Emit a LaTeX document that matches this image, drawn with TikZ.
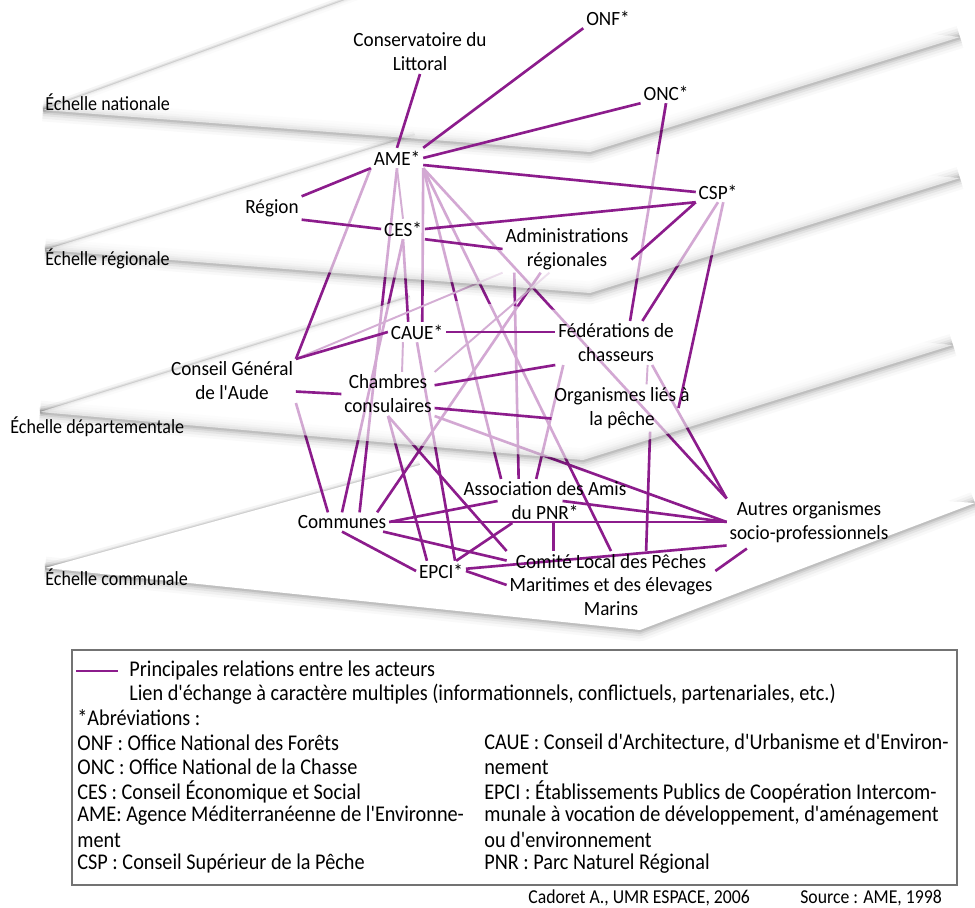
\documentclass[tikz,border=0pt]{standalone}
\usepackage{fontspec}
\setmainfont{Carlito}
\newfontfamily\actorfont{Carlito}[FakeStretch=0.95]
\newfontfamily\legendfont{Carlito}[FakeStretch=0.9]
\usepackage{tikz}
\usetikzlibrary{positioning}

\definecolor{relpurple}{RGB}{140,28,140}
\definecolor{linkpurple}{RGB}{212,174,212}

% one layer per scale sheet, and one for the lines that end on it
\pgfdeclarelayer{plane4}\pgfdeclarelayer{lines4}
\pgfdeclarelayer{plane3}\pgfdeclarelayer{lines3}
\pgfdeclarelayer{plane2}\pgfdeclarelayer{lines2}
\pgfdeclarelayer{plane1}\pgfdeclarelayer{lines1}
\pgfsetlayers{plane4,lines4,plane3,lines3,plane2,lines2,plane1,lines1,main}

% sheet: left, bottom, right, top corner, fill opacity
\newcommand{\scaleplane}[5]{%
    \foreach \lw/\op in {13/0.025,10/0.035,7/0.05,4.5/0.07,2.5/0.09}
        \draw[black, line width=\lw pt, opacity=\op, line join=round, yshift=-3pt] (#1) -- (#2) -- (#3);
    \foreach \lw/\op in {5/0.04,2.5/0.07,1.2/0.09}
        \draw[black, line width=\lw pt, opacity=\op] (#1) -- (#4);
    \fill[white, fill opacity=#5] (#1) -- (#2) -- (#3) -- (#4) -- cycle;
}

\begin{document}
\begin{tikzpicture}[
        x=0.02cm, y=-0.02cm,
        % Styles for the actors and the links
        actor/.style={
            align=center, inner sep=1.5pt,
            font=\actorfont\fontsize{11.5}{13.6}\selectfont
        },
        scalelabel/.style={
            anchor=west, inner sep=0pt,
            font=\legendfont\fontsize{11.4}{13}\selectfont
        },
        legendtext/.style={
            anchor=west, inner sep=0pt,
            font=\legendfont\fontsize{12.8}{14}\selectfont
        },
        sourcetext/.style={
            anchor=west, inner sep=0pt,
            font=\legendfont\fontsize{11.2}{13}\selectfont
        },
        rel/.style={draw=relpurple, line width=1.5pt},
        link/.style={draw=linkpurple, line width=1.1pt}
    ]

    \useasboundingbox (0,0) rectangle (975,908);

    % 1. CORNERS OF THE FOUR SHEETS
    \coordinate (natL) at (43,110);  \coordinate (natB) at (590,152);
    \coordinate (natR) at (960,37);  \coordinate (natT) at (400,-20);
    \coordinate (regL) at (45,250);  \coordinate (regB) at (590,293);
    \coordinate (regR) at (960,178); \coordinate (regT) at (415,135);
    \coordinate (depL) at (40,412);  \coordinate (depB) at (583,460);
    \coordinate (depR) at (953,345); \coordinate (depT) at (410,297);
    \coordinate (comL) at (45,568);  \coordinate (comB) at (640,630);
    \coordinate (comR) at (975,503); \coordinate (comT) at (420,465);

    \begin{pgfonlayer}{plane4}
        \fill[white] (0,0) rectangle (975,908);
        \scaleplane{comL}{comB}{comR}{comT}{1}
    \end{pgfonlayer}
    \begin{pgfonlayer}{plane3}
        \scaleplane{depL}{depB}{depR}{depT}{0.62}
    \end{pgfonlayer}
    \begin{pgfonlayer}{plane2}
        \scaleplane{regL}{regB}{regR}{regT}{0.62}
    \end{pgfonlayer}
    \begin{pgfonlayer}{plane1}
        \scaleplane{natL}{natB}{natR}{natT}{0.62}
    \end{pgfonlayer}

    % 2. SCALE NAMES
    \node[scalelabel] (natName) at (45,102) {Échelle nationale};
    \node[scalelabel] (regName) at (45,259) {Échelle régionale};
    \node[scalelabel] (depName) at (10,427) {Échelle départementale};
    \node[scalelabel] (comName) at (45,577) {Échelle communale};

    % 3. ACTORS
    \node[actor] (ONF)      at (608,18)  {ONF*};
    \node[actor] (Cons)     at (420,52)  {Conservatoire du\\Littoral};
    \node[actor] (ONC)      at (666,93)  {ONC*};
    \node[actor] (AME)      at (397,158) {AME*};
    \node[actor] (CSP)      at (718,192) {CSP*};
    \node[actor] (Region)   at (272,208) {Région};
    \node[actor] (CES)      at (403,229) {CES*};
    \node[actor] (Admin)    at (567,249) {Administrations\\régionales};
    \node[actor] (CAUE)     at (417,332) {CAUE*};
    \node[actor] (Fed)      at (616,343) {Fédérations de\\chasseurs};
    \node[actor] (CG)       at (232,381) {Conseil Général\\de l'Aude};
    \node[actor] (Chamb)    at (388,394) {Chambres\\consulaires};
    \node[actor] (Org)      at (622,408) {Organismes liés à\\la pêche};
    \node[actor] (Asso)     at (545,501) {Association des Amis\\du PNR*};
    \node[actor] (Autres)   at (809,522) {Autres organismes\\socio-professionnels};
    \node[actor] (Communes) at (342,522) {Communes};
    \node[actor] (EPCI)     at (441,571) {EPCI*};
    \node[actor] (Comite)   at (611,585) {Comité Local des Pêches\\Maritimes et des élevages\\Marins};

    % 4. LINKS ENDING ON THE COMMUNAL SHEET
    \begin{pgfonlayer}{lines4}
        \draw[rel] (AME.south) -- ([xshift=10pt]Communes.north);
        \draw[rel] (CES.south) -- (Communes.north);
        \draw[rel] (CG.south east) -- ([xshift=-8pt]Communes.north);
        \draw[rel] ([xshift=-15pt]Admin.south) -- ([xshift=20pt]Communes.north);
        \draw[rel] (AME.south east) -- ([xshift=-25pt]Asso.north);
        \draw[rel] ([xshift=-30pt]Admin.south) -- ([xshift=-15pt]Asso.north);
        \draw[rel] ([xshift=-30pt]Fed.south) -- ([xshift=-5pt]Asso.north);
        \draw[rel] (AME.south east) -- (Autres.north west);
        \draw[rel] ([xshift=-14pt]Fed.south east) -- (Autres.north west);
        \draw[rel] (Chamb.south east) -- (Autres.west);
        \draw[rel] (Chamb.south) -- ([xshift=-8pt]EPCI.north);
        \draw[rel] (CAUE.south) -- ([xshift=8pt]EPCI.north);
        \draw[rel] (Chamb.south) -- (Comite.north west);
        \draw[rel] (AME.south east) -- (Comite.north);
        \draw[rel] ([xshift=16pt]Org.south) -- ([xshift=20pt]Comite.north);
        \draw[rel] (Communes.east) -- ([xshift=-27pt]Asso.center);
        \draw[rel] (Communes.east) -- (Autres.west);
        \draw[rel] (Communes) -- (Comite);
        \draw[rel] (Communes.south) -- (EPCI.west);
        \draw[rel] (EPCI.east) -- (Comite.west);
        \draw[rel] (EPCI) -- (Asso);
        \draw[rel] (EPCI) -- (Autres.south west);
        \draw[rel] ([xshift=10pt]Asso.center) -- (Autres.west);
        \draw[rel] ([xshift=5pt]Asso.south) -- ([xshift=5pt]Asso.south |- Comite.north);
        \draw[rel, shorten <=3pt] ([xshift=14pt]Autres.south west) -- ([yshift=8pt]Comite.east);
    \end{pgfonlayer}

    % 5. LINKS ENDING ON THE DEPARTMENTAL SHEET
    \begin{pgfonlayer}{lines3}
        \draw[rel] (ONC.south) -- ([xshift=8pt]Fed.north);
        \draw[rel] (CSP.south) -- ([xshift=15pt]Fed.north);
        \draw[rel] ([xshift=3pt]CSP.south) -- ([xshift=-8pt]Org.east);
        \draw[rel] (AME.south west) -- (CG.north east);
        \draw[rel] (AME.south east) -- ([xshift=3pt]CAUE.north);
        \draw[rel] (CES.south) -- ([xshift=-5pt]CAUE.north);
        \draw[link] (Admin.south west) -- (CG.north east);
        \draw[link] ([xshift=-10pt]Admin.south) -- (Chamb.north east);
        \draw[rel] (CAUE.east) -- (CAUE.east -| Fed.west);
        \draw[rel] (CAUE.west) -- (CG.north east);
        \draw[rel] ([yshift=-6pt]CG.east) -- (Chamb.west);
        \draw[rel] ([yshift=5pt]Chamb.east) -- (Fed.south west);
        \draw[rel] ([yshift=-8pt]Chamb.east) -- ([yshift=-6pt]Org.west);
        \draw[link] ([xshift=-8pt]CAUE.south) -- ([xshift=8pt]Chamb.north);
        \draw[link] ([xshift=18pt]Fed.south) -- ([xshift=14pt]Org.north);
    \end{pgfonlayer}

    % 6. LINKS ON THE REGIONAL SHEET
    \begin{pgfonlayer}{lines2}
        \draw[rel] ([yshift=-4pt]AME.east) -- (CSP.west);
        \draw[rel] (AME.south west) -- (Region.north east);
        \draw[rel] (Region.south east) -- (CES.west);
        \draw[rel] (CES.east) -- (CSP.south west);
        \draw[rel] (CES.south east) -- (Admin.west);
        \draw[rel] (CSP.south west) -- ([yshift=-6pt]Admin.east);
        \draw[link] (AME.south) -- (CES.north);
    \end{pgfonlayer}

    % 7. LINKS FROM THE NATIONAL SHEET
    \begin{pgfonlayer}{lines1}
        \draw[rel] (Cons.south) -- (AME.north);
        \draw[rel] (ONF.south west) -- (AME.north east);
        \draw[rel] (ONC.south west) -- (AME.east);
        \begin{scope}
            \clip (natL) -- (natB) -- (natR) -- (natT) -- cycle;
            \draw[rel] (ONC.south) -- ([xshift=8pt]Fed.north);
        \end{scope}
    \end{pgfonlayer}

    % 8. LEGEND
    \draw[black!55, line width=0.6pt] (72,650) rectangle (957,885);
    \coordinate (keyA) at (76,671);
    \coordinate (keyB) at (118,671);
    \draw[rel] (keyA) -- (keyB);
    \node[legendtext] (key1) at (129,671) {Principales relations entre les acteurs};
    \node[legendtext] (key2) at (129,694) {Lien d'échange à caractère multiples (informationnels, conflictuels, partenariales, etc.)};
    \node[legendtext] (abbr) at (77,718) {*Abréviations :};

    \node[legendtext] (abONF) at (77,743) {ONF : Office National des Forêts};
    \node[legendtext] (abONC) at (77,767) {ONC : Office National de la Chasse};
    \node[legendtext] (abCES) at (77,792) {CES : Conseil Économique et Social};
    \node[legendtext] (abAME) at (77,816) {AME: Agence Méditerranéenne de l'Environne-};
    \node[legendtext] (abAMEb) at (77,840) {ment};
    \node[legendtext] (abCSP) at (77,864) {CSP : Conseil Supérieur de la Pêche};

    \node[legendtext] (abCAUE) at (484,743) {CAUE : Conseil d'Architecture, d'Urbanisme et d'Environ-};
    \node[legendtext] (abCAUEb) at (484,767) {nement};
    \node[legendtext] (abEPCI) at (484,792) {EPCI : Établissements Publics de Coopération Intercom-};
    \node[legendtext] (abEPCIb) at (484,816) {munale à vocation de développement, d'aménagement};
    \node[legendtext] (abEPCIc) at (484,840) {ou d'environnement};
    \node[legendtext] (abPNR) at (484,864) {PNR : Parc Naturel Régional};

    % 9. SOURCES
    \node[sourcetext] (credit) at (528,898) {Cadoret A., UMR ESPACE, 2006};
    \node[sourcetext] (source) at (800,898) {Source : AME, 1998};

\end{tikzpicture}
\end{document}
